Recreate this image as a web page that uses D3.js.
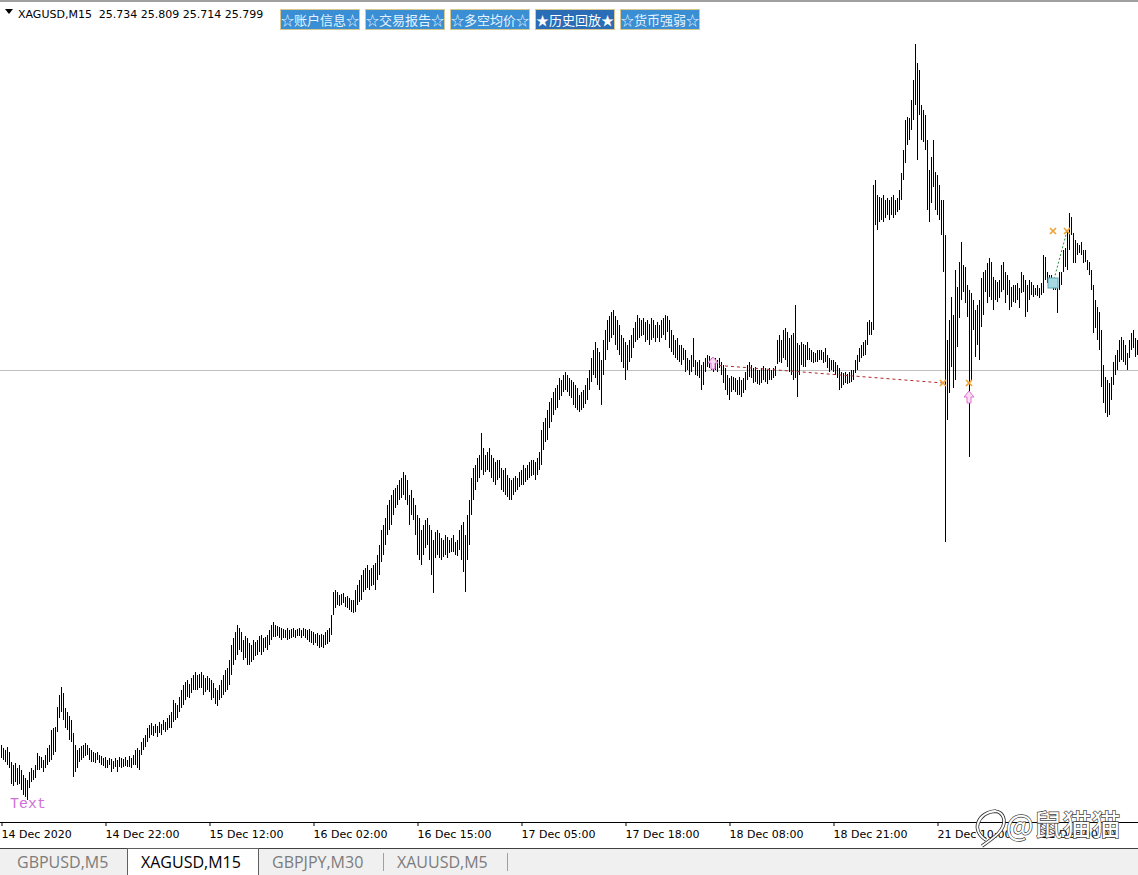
<!DOCTYPE html>
<html><head><meta charset="utf-8">
<script src="https://cdn.jsdelivr.net/npm/d3@7"></script>
<style>html,body{margin:0;padding:0;background:#fff;}svg{display:block;}</style>
</head><body>
<svg id="c" width="1138" height="875"></svg>
<script>
// ---- DATA ----
const symbol = "XAGUSD,M15";
const lastOHLC = [25.734, 25.809, 25.714, 25.799];
const bidPrice = 25.799;
const highs = [
23.925,23.91,23.90,23.915,23.89,23.84,23.825,23.835,23.81,23.825,
23.80,23.775,23.76,23.75,23.79,23.81,23.80,23.825,23.885,23.87,
23.865,23.85,23.875,23.91,23.925,24.00,24.01,24.015,24.115,24.175,
24.215,24.185,24.11,24.09,24.07,24.05,23.985,23.925,23.90,23.91,
23.92,23.925,23.935,23.925,23.91,23.90,23.89,23.885,23.89,23.875,
23.87,23.86,23.865,23.85,23.86,23.855,23.845,23.86,23.85,23.865,
23.86,23.855,23.865,23.85,23.87,23.86,23.875,23.90,23.91,23.90,
23.94,23.96,23.975,24.01,24.025,24.035,24.02,24.03,24.02,24.04,
24.03,24.05,24.04,24.06,24.075,24.09,24.15,24.135,24.125,24.165,
24.20,24.225,24.24,24.25,24.23,24.26,24.275,24.29,24.275,24.28,
24.29,24.275,24.26,24.27,24.26,24.25,24.235,24.21,24.20,24.225,
24.25,24.275,24.30,24.31,24.35,24.425,24.46,24.49,24.525,24.51,
24.49,24.45,24.47,24.46,24.435,24.425,24.45,24.44,24.45,24.47,
24.475,24.46,24.465,24.475,24.50,24.525,24.54,24.525,24.52,24.515,
24.51,24.505,24.50,24.51,24.50,24.505,24.51,24.50,24.505,24.51,
24.50,24.51,24.505,24.50,24.505,24.495,24.49,24.48,24.485,24.475,
24.48,24.475,24.49,24.50,24.51,24.575,24.69,24.70,24.69,24.675,
24.68,24.685,24.665,24.67,24.66,24.65,24.65,24.70,24.725,24.75,
24.775,24.80,24.81,24.825,24.80,24.81,24.825,24.835,24.875,24.925,
25.00,25.025,25.06,25.125,25.15,25.175,25.20,25.21,25.225,25.25,
25.26,25.29,25.275,25.25,25.175,25.20,25.16,25.125,25.075,25.06,
25.00,25.025,25.05,25.06,25.025,25.00,24.95,24.99,25.00,24.985,
24.96,24.95,24.975,24.965,24.95,24.96,24.975,24.94,24.95,25.00,
25.025,25.04,24.975,25.075,25.15,25.26,25.31,25.325,25.36,25.375,
25.485,25.41,25.375,25.39,25.41,25.375,25.36,25.34,25.35,25.35,
25.31,25.30,25.31,25.275,25.26,25.25,25.26,25.27,25.26,25.29,
25.30,25.325,25.31,25.325,25.34,25.35,25.35,25.34,25.36,25.39,
25.50,25.54,25.56,25.60,25.64,25.66,25.69,25.71,25.725,25.76,
25.75,25.775,25.79,25.775,25.76,25.75,25.74,25.725,25.71,25.675,
25.69,25.70,25.725,25.76,25.80,25.86,25.90,25.94,25.91,25.89,
25.85,25.95,26.00,26.05,26.07,26.09,26.10,26.07,26.05,26.025,
25.975,25.96,25.94,25.925,25.95,25.975,26.01,26.04,26.075,26.06,
26.05,26.06,26.04,26.05,26.03,26.06,26.05,26.025,26.04,26.025,
26.05,26.06,26.075,26.07,26.05,26.00,25.975,25.95,25.96,25.925,
25.925,25.91,25.90,25.86,25.85,25.875,25.96,25.85,25.84,25.85,
25.825,25.84,25.86,25.875,25.87,25.86,25.85,25.86,25.85,25.86,
25.84,25.825,25.81,25.775,25.76,25.77,25.765,25.76,25.75,25.765,
25.75,25.76,25.79,25.825,25.84,25.825,25.81,25.815,25.80,25.80,
25.81,25.82,25.81,25.80,25.81,25.80,25.81,25.82,25.95,25.975,
25.95,26.00,26.01,25.99,25.96,25.975,25.985,26.125,25.935,25.925,
25.94,25.93,25.925,25.94,25.91,25.90,25.89,25.885,25.90,25.90,
25.90,25.89,25.91,25.875,25.86,25.85,25.85,25.84,25.825,25.81,
25.79,25.785,25.79,25.78,25.79,25.80,25.80,25.85,25.875,25.91,
25.925,25.94,25.95,26.04,26.05,26.04,26.725,26.75,26.675,26.665,
26.66,26.675,26.65,26.66,26.65,26.665,26.675,26.65,26.66,26.70,
26.785,26.90,27.05,27.065,27.06,27.15,27.25,27.43,27.335,27.30,
27.125,27.10,27.075,26.95,26.80,26.865,26.95,26.79,26.775,26.725,
26.65,26.65,26.475,25.95,26.05,26.165,26.075,26.30,26.215,26.34,
26.44,26.325,26.315,26.225,26.20,26.185,26.15,26.10,26.125,26.15,
26.26,26.29,26.30,26.335,26.36,26.34,26.265,26.25,26.24,26.25,
26.325,26.34,26.29,26.275,26.25,26.215,26.225,26.225,26.235,26.21,
26.29,26.275,26.25,26.225,26.25,26.24,26.225,26.21,26.225,26.21,
26.235,26.375,26.365,26.29,26.275,26.275,26.26,26.25,26.25,26.29,
26.29,26.40,26.41,26.49,26.585,26.565,26.485,26.45,26.435,26.425,
26.44,26.40,26.40,26.35,26.34,26.30,26.225,26.15,26.115,26.09,
26.00,25.825,25.765,25.75,25.735,25.765,25.84,25.875,25.90,25.95,
25.965,25.95,25.925,25.885,25.95,25.985,26.00,25.96,25.95
];
const lows = [
23.86,23.85,23.84,23.825,23.81,23.73,23.72,23.74,23.725,23.73,
23.70,23.675,23.665,23.65,23.71,23.74,23.75,23.76,23.80,23.80,
23.81,23.79,23.81,23.825,23.84,23.85,23.875,23.89,23.99,24.06,
24.09,24.05,24.01,24.00,23.95,23.94,23.765,23.79,23.81,23.84,
23.85,23.86,23.87,23.875,23.85,23.84,23.84,23.835,23.85,23.835,
23.825,23.82,23.81,23.81,23.825,23.79,23.805,23.815,23.79,23.815,
23.81,23.815,23.82,23.815,23.815,23.81,23.825,23.825,23.81,23.80,
23.875,23.90,23.915,23.94,23.96,23.975,23.97,23.985,23.965,23.985,
23.975,24.00,23.99,24.00,24.01,24.01,24.04,24.05,24.06,24.09,
24.11,24.125,24.15,24.165,24.16,24.185,24.20,24.20,24.20,24.21,
24.21,24.175,24.19,24.20,24.19,24.15,24.16,24.13,24.12,24.15,
24.16,24.175,24.19,24.20,24.225,24.275,24.325,24.35,24.375,24.40,
24.39,24.35,24.36,24.325,24.325,24.34,24.35,24.37,24.375,24.39,
24.375,24.39,24.41,24.40,24.425,24.45,24.465,24.465,24.47,24.46,
24.45,24.46,24.46,24.45,24.455,24.46,24.465,24.46,24.47,24.47,
24.46,24.47,24.46,24.45,24.44,24.435,24.425,24.435,24.42,24.41,
24.415,24.41,24.425,24.43,24.44,24.475,24.575,24.61,24.625,24.62,
24.625,24.635,24.615,24.61,24.60,24.59,24.585,24.59,24.625,24.64,
24.65,24.69,24.70,24.71,24.70,24.72,24.725,24.70,24.75,24.775,
24.84,24.875,24.925,24.975,25.00,25.025,25.075,25.11,25.125,25.15,
25.16,25.175,25.15,25.125,25.025,25.075,25.05,24.975,24.875,24.85,
24.825,24.875,24.91,24.925,24.85,24.775,24.685,24.86,24.875,24.86,
24.85,24.865,24.875,24.86,24.885,24.89,24.89,24.875,24.87,24.90,
24.85,24.79,24.69,24.85,24.925,25.075,25.15,25.20,25.24,25.26,
25.30,25.275,25.29,25.30,25.29,25.26,25.24,25.225,25.25,25.26,
25.20,25.19,25.175,25.165,25.15,25.15,25.175,25.19,25.20,25.215,
25.225,25.225,25.24,25.25,25.26,25.27,25.275,25.25,25.275,25.30,
25.325,25.40,25.44,25.45,25.51,25.54,25.575,25.60,25.61,25.65,
25.67,25.69,25.70,25.69,25.67,25.66,25.625,25.61,25.60,25.59,
25.60,25.61,25.63,25.65,25.70,25.74,25.775,25.76,25.725,25.70,
25.625,25.775,25.85,25.90,25.94,25.96,25.975,25.925,25.90,25.875,
25.84,25.81,25.75,25.80,25.84,25.86,25.91,25.94,25.95,25.96,
25.97,25.975,25.94,25.95,25.925,25.95,25.96,25.94,25.96,25.94,
25.96,25.975,25.95,25.99,25.91,25.89,25.875,25.86,25.85,25.84,
25.825,25.85,25.79,25.80,25.775,25.79,25.815,25.775,25.77,25.76,
25.70,25.725,25.79,25.815,25.81,25.80,25.79,25.80,25.79,25.81,
25.775,25.735,25.70,25.675,25.65,25.69,25.70,25.69,25.675,25.675,
25.665,25.685,25.70,25.75,25.765,25.76,25.735,25.74,25.73,25.725,
25.735,25.75,25.74,25.73,25.75,25.75,25.76,25.77,25.83,25.84,
25.835,25.86,25.85,25.815,25.79,25.775,25.75,25.76,25.665,25.775,
25.825,25.815,25.815,25.85,25.85,25.84,25.835,25.84,25.84,25.85,
25.85,25.835,25.84,25.81,25.79,25.80,25.79,25.775,25.76,25.70,
25.71,25.725,25.735,25.73,25.735,25.74,25.75,25.785,25.80,25.84,
25.86,25.87,25.875,25.925,25.975,25.975,26.00,26.525,26.50,26.54,
26.55,26.54,26.56,26.575,26.55,26.575,26.56,26.575,26.59,26.60,
26.65,26.75,26.835,26.925,26.95,27.00,27.05,27.125,26.85,27.075,
26.95,26.94,26.90,26.60,26.54,26.635,26.715,26.60,26.575,26.55,
26.475,26.29,24.94,25.55,25.685,25.815,25.71,25.75,25.915,26.06,
26.15,26.19,26.135,26.065,25.365,25.75,26.00,25.865,25.925,25.85,
26.015,26.075,26.19,26.135,26.165,26.15,26.10,26.15,26.14,26.16,
26.19,26.20,26.135,26.175,26.10,26.115,26.14,26.135,26.15,26.11,
26.185,26.19,26.065,26.09,26.15,26.175,26.165,26.175,26.17,26.16,
26.175,26.185,26.25,26.235,26.215,26.225,26.20,26.20,26.085,26.20,
26.225,26.29,26.315,26.30,26.40,26.475,26.335,26.335,26.375,26.385,
26.375,26.335,26.34,26.30,26.275,26.20,25.985,26.01,25.95,25.90,
25.715,25.635,25.585,25.565,25.575,25.65,25.725,25.775,25.80,25.84,
25.85,25.84,25.825,25.80,25.86,25.90,25.91,25.865,25.875
];
const timeLabels = ["14 Dec 2020","14 Dec 22:00","15 Dec 12:00","16 Dec 02:00","16 Dec 15:00","17 Dec 05:00","17 Dec 18:00","18 Dec 08:00","18 Dec 21:00","21 Dec 10:00","22 Dec 00:00"];
const timeLabelBars = [0,52,104,156,208,260,312,364,416,468,520];
const buttonLabels = ["☆账户信息☆","☆交易报告☆","☆多空均价☆","★历史回放★","☆货币强弱☆"];
const activeButton = 3;
const tabLabels = ["GBPUSD,M5","XAGUSD,M15","GBPJPY,M30","XAUUSD,M5"];
const activeTab = 1;
// trade objects (bar index, price)
const sellLine = [[356, 25.825],[471, 25.735]];
const closeCrosses = [[471, 25.735],[484, 25.735],[526, 26.495],[533, 26.495]];
const arrowMarks = [[356, 25.835],[484, 25.665]];
const squareMark = [526, 26.235];
const greenLine = [[526, 26.235],[533, 26.495]];
const textLabel = "Text";
const watermark = "@鼠猫猫";

// ---- DRAW ----
const W = 1138, H = 875, plotBottom = 822;
const svg = d3.select("#c");
svg.append("rect").attr("width", W).attr("height", H).attr("fill", "#fff");

const x = d3.scaleLinear().domain([0, highs.length - 1]).range([1, 1 + 2 * (highs.length - 1)]);
const y = d3.scaleLinear().domain([23.54, 27.65]).range([plotBottom, 0]);

const uiFont = "'DejaVu Sans', Tahoma, sans-serif";

// top border
svg.append("rect").attr("x", 0).attr("y", 0).attr("width", W).attr("height", 2).attr("fill", "#a0a0a0");

// bid line
svg.append("line").attr("x1", 0).attr("x2", W).attr("y1", Math.round(y(bidPrice)) + 0.5).attr("y2", Math.round(y(bidPrice)) + 0.5)
  .attr("stroke", "#c0c0c0").attr("stroke-width", 1);

// bars
svg.append("g").selectAll("rect").data(highs).join("rect")
  .attr("x", (d, i) => Math.round(x(i)))
  .attr("y", d => Math.round(y(d)))
  .attr("width", 1)
  .attr("height", (d, i) => Math.max(1, Math.round(y(lows[i])) - Math.round(y(d))))
  .attr("fill", "#000");

// trade lines
svg.append("line")
  .attr("x1", x(sellLine[0][0])).attr("y1", y(sellLine[0][1]))
  .attr("x2", x(sellLine[1][0])).attr("y2", y(sellLine[1][1]))
  .attr("stroke", "#b02828").attr("stroke-width", 1).attr("stroke-dasharray", "3,3");
svg.append("line")
  .attr("x1", x(greenLine[0][0])).attr("y1", y(greenLine[0][1]))
  .attr("x2", x(greenLine[1][0])).attr("y2", y(greenLine[1][1]))
  .attr("stroke", "#2a8a3a").attr("stroke-width", 1).attr("stroke-dasharray", "2,2");

// crosses
const cg = svg.append("g");
closeCrosses.forEach(([b, p]) => {
  const cx = x(b), cy = y(p), s = 3;
  cg.append("path").attr("d", `M${cx - s},${cy - s}L${cx + s},${cy + s}M${cx - s},${cy + s}L${cx + s},${cy - s}`)
    .attr("stroke", "#f0a030").attr("stroke-width", 1.6).attr("fill", "none");
});
// arrows (pink)
arrowMarks.forEach(([b, p]) => {
  const cx = x(b), cy = y(p);
  cg.append("path").attr("d", `M${cx},${cy - 6}L${cx + 5},${cy}L${cx + 2},${cy}L${cx + 2},${cy + 6}L${cx - 2},${cy + 6}L${cx - 2},${cy}L${cx - 5},${cy}Z`)
    .attr("fill", "#f8dcf4").attr("stroke", "#e070d0").attr("stroke-width", 1);
});
// square
svg.append("rect").attr("x", x(squareMark[0]) - 5).attr("y", y(squareMark[1]) - 5).attr("width", 10).attr("height", 10)
  .attr("fill", "#a8d8e0").attr("stroke", "#5aa8b8").attr("stroke-width", 1);

// Text label
svg.append("text").attr("x", 10).attr("y", 808).text(textLabel)
  .attr("font-family", "'Liberation Mono', 'DejaVu Sans Mono', monospace").attr("font-size", 15).attr("fill", "#d070d8");

// header
svg.append("path").attr("d", "M5,9L13,9L9,14Z").attr("fill", "#000");
svg.append("text").attr("x", 18).attr("y", 18).attr("font-family", uiFont).attr("font-size", 11).attr("fill", "#000")
  .attr("xml:space", "preserve").text(symbol + "  " + lastOHLC.map(v => v.toFixed(3)).join(" "));

// buttons
const bg = svg.append("g");
buttonLabels.forEach((t, k) => {
  const bx = 280 + k * 85;
  bg.append("rect").attr("x", bx + 0.5).attr("y", 9.5).attr("width", 79).attr("height", 20)
    .attr("fill", k === activeButton ? "#2a6cb6" : "#3a8ed4").attr("stroke", "#d8c890").attr("stroke-width", 1);
  bg.append("text").attr("x", bx + 40).attr("y", 25).attr("text-anchor", "middle")
    .attr("font-family", "'Noto Sans CJK SC', sans-serif").attr("font-size", 13)
    .attr("fill", k === activeButton ? "#ffffff" : "#e6f3ff").text(t);
});

// time axis
const axG = svg.append("g").attr("transform", `translate(0,${plotBottom})`);
axG.append("line").attr("x1", 0).attr("x2", W).attr("y1", 0.5).attr("y2", 0.5).attr("stroke", "#000");
const axis = d3.axisBottom(x).tickValues(timeLabelBars).tickSize(4).tickFormat((d, i) => timeLabels[i]);
const axSel = axG.append("g").call(axis);
axSel.select(".domain").remove();
axSel.selectAll(".tick line").attr("stroke", "#000").attr("transform", "translate(0.5,0)");
axSel.selectAll(".tick text").attr("text-anchor", "start").attr("x", 0).attr("y", 8)
  .attr("font-family", uiFont).attr("font-size", 11).attr("fill", "#000");

// tab bar
svg.append("rect").attr("x", 0).attr("y", 849).attr("width", W).attr("height", H - 849).attr("fill", "#f0f0f0");
svg.append("line").attr("x1", 0).attr("x2", W).attr("y1", 848.5).attr("y2", 848.5).attr("stroke", "#404040");
const tabX = [0, 127, 258, 383, 507];
tabLabels.forEach((t, k) => {
  if (k === activeTab) {
    svg.append("rect").attr("x", tabX[k] + 0.5).attr("y", 848.5).attr("width", tabX[k + 1] - tabX[k]).attr("height", 30)
      .attr("fill", "#fff").attr("stroke", "#606060");
  } else if (k > activeTab) {
    svg.append("line").attr("x1", tabX[k + 1] + 0.5).attr("x2", tabX[k + 1] + 0.5).attr("y1", 853).attr("y2", 871).attr("stroke", "#a0a0a0");
  }
  svg.append("text").attr("x", tabX[k] + (k === 0 ? 17 : 14)).attr("y", 868)
    .attr("font-family", "'Open Sans', 'Noto Sans', sans-serif").attr("font-size", 16)
    .attr("fill", k === activeTab ? "#000" : "#7c7c7c").text(t);
});

// watermark
const wm = svg.append("g");
const logo = "M986,840 C970,830 978,812 996,811 M978,823 C984,810 1002,806 1004,820 C1005,830 995,837 982,846";
wm.append("path").attr("d", logo).attr("fill", "none").attr("stroke", "#333").attr("stroke-width", 3.5);
wm.append("path").attr("d", logo).attr("fill", "none").attr("stroke", "#fff").attr("stroke-width", 1.8);
wm.append("text").attr("x", 1006).attr("y", 836).text(watermark)
  .attr("font-family", "'Noto Sans CJK SC', sans-serif").attr("font-size", 29)
  .attr("fill", "#fff").attr("stroke", "#444").attr("stroke-width", 1.4).attr("paint-order", "stroke");
</script>
</body></html>
